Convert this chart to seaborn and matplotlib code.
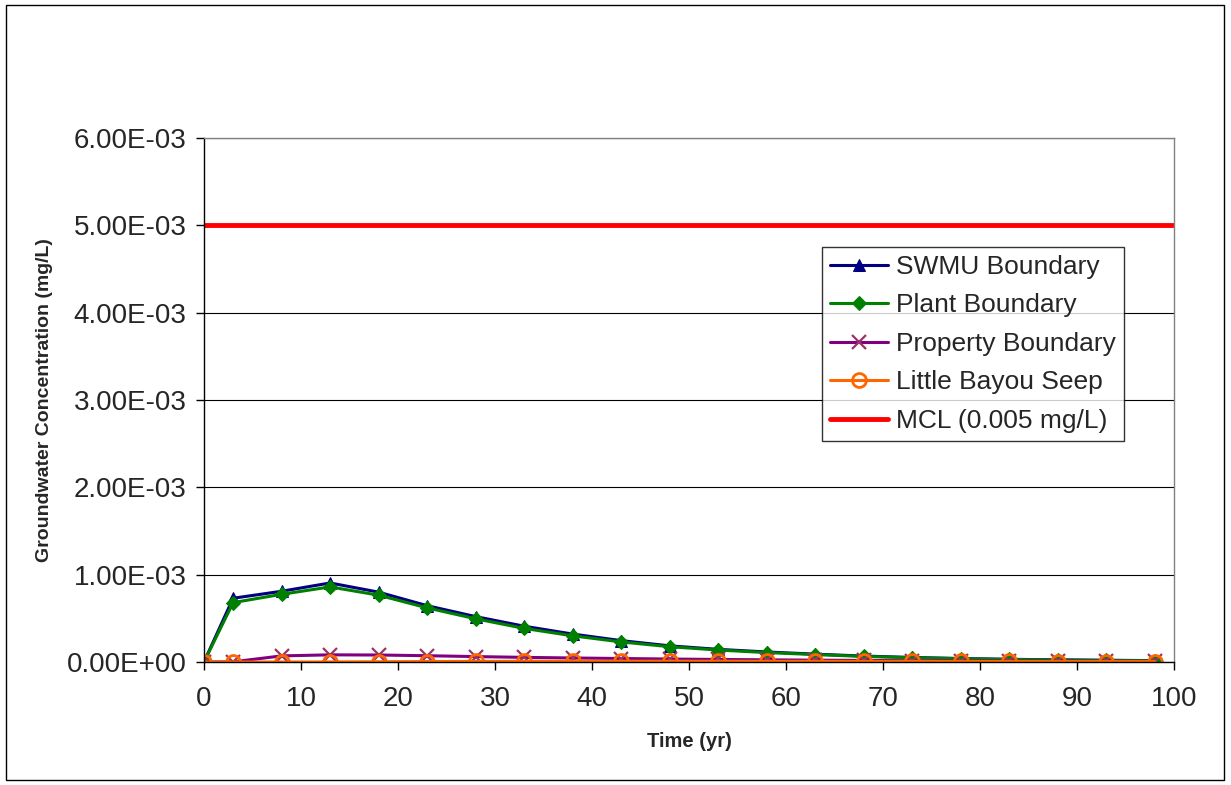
import matplotlib
matplotlib.use("Agg")
import matplotlib.pyplot as plt
import seaborn as sns
import numpy as np
import pandas as pd
from matplotlib.ticker import FuncFormatter
from matplotlib.patches import Rectangle

time_yr = [0, 3, 8, 13, 18, 23, 28, 33, 38, 43, 48, 53, 58, 63, 68, 73, 78, 83, 88, 93, 98]
swmu = [0.0, 0.73e-3, 0.81e-3, 0.905e-3, 0.80e-3, 0.645e-3, 0.52e-3, 0.41e-3, 0.32e-3, 0.245e-3, 0.185e-3,
        0.145e-3, 0.115e-3, 0.09e-3, 0.068e-3, 0.052e-3, 0.04e-3, 0.031e-3, 0.025e-3, 0.02e-3, 0.016e-3]
plant = [0.0, 0.68e-3, 0.775e-3, 0.86e-3, 0.765e-3, 0.62e-3, 0.495e-3, 0.385e-3, 0.30e-3, 0.23e-3, 0.175e-3,
         0.137e-3, 0.108e-3, 0.085e-3, 0.064e-3, 0.049e-3, 0.038e-3, 0.029e-3, 0.023e-3, 0.018e-3, 0.015e-3]
prop = [0.0, 0.002e-3, 0.07e-3, 0.082e-3, 0.08e-3, 0.072e-3, 0.062e-3, 0.053e-3, 0.046e-3, 0.04e-3, 0.034e-3,
        0.029e-3, 0.025e-3, 0.021e-3, 0.018e-3, 0.015e-3, 0.013e-3, 0.011e-3, 0.01e-3, 0.009e-3, 0.008e-3]
seep = [0.0, 0.0, 0.0, 0.001e-3, 0.003e-3, 0.005e-3, 0.007e-3, 0.008e-3, 0.009e-3, 0.009e-3, 0.009e-3,
        0.009e-3, 0.008e-3, 0.008e-3, 0.007e-3, 0.007e-3, 0.006e-3, 0.006e-3, 0.005e-3, 0.005e-3, 0.005e-3]
mcl_value = 0.005
x_ticks = [0, 10, 20, 30, 40, 50, 60, 70, 80, 90, 100]
y_ticks = [0, 1e-3, 2e-3, 3e-3, 4e-3, 5e-3, 6e-3]

sns.set_style("white")
plt.rcParams['font.family'] = ['Liberation Sans', 'DejaVu Sans']

fig = plt.figure(figsize=(12.31, 7.85), dpi=100)
ax = fig.add_axes([204/1231, 1-662/785, (1174-204)/1231, (662-138)/785])

series = [
    ("SWMU Boundary", swmu, "#000080", "^", dict(markerfacecolor="#000080", markeredgecolor="#000080", markersize=9)),
    ("Plant Boundary", plant, "#008000", "D", dict(markerfacecolor="#008000", markeredgecolor="#008000", markersize=7.5)),
    ("Property Boundary", prop, "#800080", "x", dict(markeredgecolor="#993366", markersize=10, markeredgewidth=1.6)),
    ("Little Bayou Seep", seep, "#FF6600", "o", dict(markerfacecolor="none", markeredgecolor="#FF6600", markersize=10, markeredgewidth=2.0)),
]
for name, vals, color, marker, mk in series:
    df = pd.DataFrame({"t": time_yr, "c": vals})
    sns.lineplot(data=df, x="t", y="c", ax=ax, color=color, linewidth=2.2, marker=marker,
                 label=name, **mk)

df_mcl = pd.DataFrame({"t": [0, 100], "c": [mcl_value, mcl_value]})
sns.lineplot(data=df_mcl, x="t", y="c", ax=ax, color="#FF0000", linewidth=3.5, label="MCL (0.005 mg/L)")

ax.set_xlim(0, 100)
ax.set_ylim(0, 6e-3)
ax.set_xticks(x_ticks)
ax.set_yticks(y_ticks)
ax.yaxis.set_major_formatter(FuncFormatter(lambda v, p: f"{v:.2E}"))
ax.grid(axis="y", color="black", linewidth=0.8)
ax.grid(axis="x", visible=False)
ax.set_axisbelow(True)
for s in ["left", "bottom"]:
    ax.spines[s].set_color("black")
    ax.spines[s].set_linewidth(1.0)
for s in ["right", "top"]:
    ax.spines[s].set_color("#808080")
    ax.spines[s].set_linewidth(1.0)
ax.tick_params(axis="both", which="major", direction="out", length=5.5, width=1, color="black",
               labelsize=20, bottom=True, left=True)
ax.tick_params(axis="y", pad=7)
ax.tick_params(axis="x", pad=12)
ax.set_xlabel("Time (yr)", fontsize=14.5, fontweight="bold", labelpad=14)
ax.set_ylabel("Groundwater Concentration (mg/L)", fontsize=14, fontweight="bold", labelpad=10)

leg = ax.legend(loc="upper left", bbox_to_anchor=((822-204)/970, (662-247)/524), frameon=True,
                fontsize=19, handlelength=2.2, borderpad=0.3, labelspacing=0.55,
                handletextpad=0.3, fancybox=False, borderaxespad=0)
leg.get_frame().set_edgecolor("black")
leg.get_frame().set_linewidth(1.0)

fig.patches.append(Rectangle((6/1231, 5/785), (1224-6)/1231, (780-5)/785, transform=fig.transFigure,
                             fill=False, edgecolor="black", linewidth=1.0))

fig.savefig("out.png", dpi=100)
